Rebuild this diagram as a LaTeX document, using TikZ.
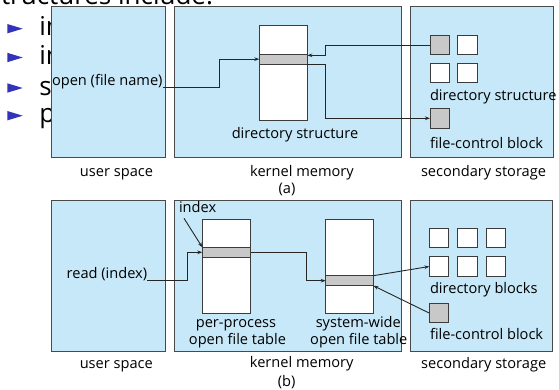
\documentclass[tikz,border=0pt]{standalone}
\usepackage{fontspec}
\setmainfont{Open Sans}
\usetikzlibrary{arrows.meta}

\definecolor{paneblue}{HTML}{C6E8F8}
\definecolor{paneedge}{HTML}{4A4A4A}
\definecolor{tabedge}{HTML}{3C3C3C}
\definecolor{bandgray}{HTML}{C8C8C8}
\definecolor{wire}{HTML}{262626}
\definecolor{bulletblue}{HTML}{3333B8}

\newcommand\lblsize{\fontsize{14.6}{17.7}\selectfont}
\newcommand\slidesize{\fontsize{26}{31}\selectfont}

\begin{document}
\begin{tikzpicture}[x=1pt,y=-1pt,
  panel/.style={draw=paneedge, fill=paneblue, line width=1pt, anchor=north west,
    inner sep=0pt, outer sep=0pt},
  tbl/.style={draw=tabedge, fill=white, line width=0.9pt, anchor=north west,
    inner sep=0pt, outer sep=0pt},
  band/.style={tbl, fill=bandgray},
  blk/.style={tbl, minimum width=19.6pt, minimum height=19.6pt},
  gblk/.style={blk, fill=bandgray},
  lbl/.style={font=\lblsize, inner sep=0pt, outer sep=0pt,
    text height=11.1pt, text depth=3.5pt},
  slide/.style={font=\slidesize, inner sep=0pt, outer sep=0pt},
  conn/.style={draw=wire, line width=0.9pt},
  arr/.style={conn, -{Stealth[length=5pt,width=3.6pt]}}]

\useasboundingbox (0,0) rectangle (559,390);
\clip (0,0) rectangle (559,390);

% slide text behind the figure
\node[slide, anchor=base east] (hdr) at (213,4.5) {structures include:};
\foreach \cy/\word [count=\k] in {28.7/in, 57.5/in, 88/s, 115.7/p}{
  \fill[bulletblue] (7.3,\cy-4.7) -- (22.7,\cy) -- (7.3,\cy+4.7) -- cycle;
  \node[slide, anchor=base west] (bl\k) at (39.3,\cy+7.1) {\word};
}

% ---------------- (a) open ----------------
\node[panel, minimum width=114.3pt, minimum height=150.5pt] (userA) at (51,7) {};
\node[panel, minimum width=227.7pt, minimum height=150.5pt] (kernA) at (174,7) {};
\node[panel, minimum width=142.3pt, minimum height=150.5pt] (secA) at (410.7,7) {};

\node[tbl, minimum width=48pt, minimum height=95pt] (dirA) at (259.3,25.7) {};
\node[band, minimum width=48pt, minimum height=9.7pt] (bandA) at (259.3,54.3) {};

\node[gblk] (sqA1) at (430,35.3) {};
\node[blk]  (sqA2) at (457.7,35.3) {};
\node[blk]  (sqA3) at (430,63.3) {};
\node[blk]  (sqA4) at (457.7,63.3) {};
\node[gblk] (fcbA) at (430,108.5) {};

\node[lbl, anchor=west] (open) at (52,82) {open (file name)};
\node[lbl] (dirAlbl) at (295,135) {directory structure};
\node[lbl, anchor=west] (dirSlbl) at (430,96.7) {directory structure};
\node[lbl, anchor=west] (fcbAlbl) at (430,144.3) {file-control block};

\node[lbl] (userAlbl) at (116.5,172.5) {user space};
\node[lbl] (kernAlbl) at (302,173) {kernel memory};
\node[lbl] (secAlbl) at (483.5,173) {secondary storage};
\node[lbl] (capA) at (287,190) {(a)};

\draw[arr] ([yshift=-5pt]open.east) -- ++(57.4,0) |- (bandA.west);
\draw[arr] (sqA1.west) -- ++(-104.3,0) |- ([yshift=-1pt]bandA.north east);
\draw[arr] (bandA.south east) -- ++(18.4,0) |- (fcbA.west);

% ---------------- (b) read ----------------
\node[panel, minimum width=114.3pt, minimum height=151.7pt] (userB) at (51,200) {};
\node[panel, minimum width=227.7pt, minimum height=151.7pt] (kernB) at (174,200) {};
\node[panel, minimum width=142pt, minimum height=151.7pt] (secB) at (410.7,200) {};

\node[tbl, minimum width=48.4pt, minimum height=94.3pt] (ppt) at (202.3,219) {};
\node[band, minimum width=48.4pt, minimum height=10pt] (ppBand) at (202.3,247.3) {};
\node[tbl, minimum width=47.6pt, minimum height=94.3pt] (swt) at (325.7,219) {};
\node[band, minimum width=47.6pt, minimum height=10pt] (swBand) at (325.7,275.7) {};

\node[blk] (sqB1) at (429.3,228.3) {};
\node[blk] (sqB2) at (457.7,228.3) {};
\node[blk] (sqB3) at (486,228.3) {};
\node[blk] (sqB4) at (429.3,256.7) {};
\node[blk] (sqB5) at (457.7,256.7) {};
\node[blk] (sqB6) at (486,256.7) {};
\node[gblk] (fcbB) at (429.3,303.3) {};

\node[lbl, anchor=west] (idx) at (179,209) {index};
\node[lbl, anchor=west] (read) at (66.7,275) {read (index)};
\node[lbl] (pp1) at (236,323.3) {per-process};
\node[lbl] (pp2) at (237.5,341) {open file table};
\node[lbl] (sw1) at (358.3,323.3) {system-wide};
\node[lbl] (sw2) at (358.8,341) {open file table};
\node[lbl, anchor=west] (dblbl) at (430,290) {directory blocks};
\node[lbl, anchor=west] (fcbBlbl) at (430,336) {file-control block};

\node[lbl] (userBlbl) at (116.3,364.4) {user space};
\node[lbl] (kernBlbl) at (301.7,364) {kernel memory};
\node[lbl] (secBlbl) at (483.7,364.5) {secondary storage};
\node[lbl] (capB) at (286.7,382.7) {(b)};

\draw[arr] ([yshift=-5pt]read.east) -- ++(40,0) |- (ppBand.west);
\draw[arr] ([xshift=5pt,yshift=-2pt]idx.south west) -- (ppBand.north west);
\draw[arr] (ppBand.east) -- ++(56,0) |- (swBand.west);
\draw[arr] (swBand.north east) -- (sqB4.west);
\draw[arr] (fcbB.west) -- (swBand.south east);
\end{tikzpicture}
\end{document}
